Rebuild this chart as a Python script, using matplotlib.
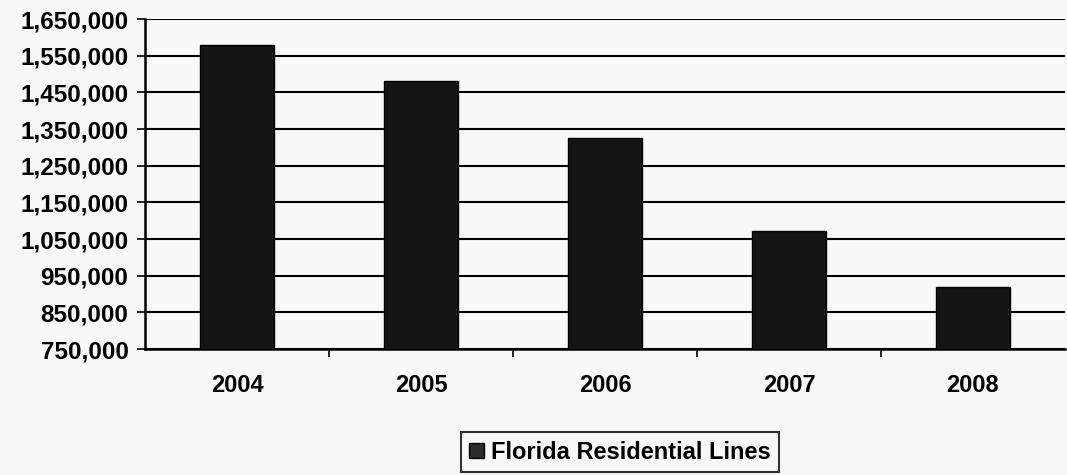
import matplotlib
matplotlib.use('Agg')
from matplotlib import pyplot as plt
from matplotlib.patches import Patch
from matplotlib.ticker import FuncFormatter
import numpy as np

# Florida residential access lines by year
years = ['2004', '2005', '2006', '2007', '2008']
lines = [1579000, 1482000, 1325000, 1073000, 920000]
yticks = [750000, 850000, 950000, 1050000, 1150000, 1250000,
          1350000, 1450000, 1550000, 1650000]

plt.rcParams['font.family'] = ['Liberation Sans', 'DejaVu Sans']
plt.rcParams['font.weight'] = 'bold'

bg = '#f8f8f8'
fig = plt.figure(figsize=(10.67, 4.75), dpi=100, facecolor=bg)
ax = fig.add_axes([0.136, 0.265, 0.862, 0.695], facecolor=bg)

x = np.arange(len(years))
ax.bar(x, lines, width=0.4, color='#141414', edgecolor='#000000',
       linewidth=1, zorder=3)

ax.set_ylim(750000, 1650000)
ax.set_xlim(-0.5, len(years) - 0.5)
ax.set_yticks(yticks)
ax.yaxis.set_major_formatter(FuncFormatter(lambda v, p: '{:,.0f}'.format(v)))
ax.yaxis.grid(True, color='#000000', linewidth=1.5, zorder=1)
ax.set_axisbelow(True)

ax.set_xticks(x)
ax.set_xticklabels(years)
ax.set_xticks(np.arange(0.5, len(years) - 0.5), minor=True)
ax.tick_params(axis='x', which='major', length=0, pad=18, labelsize=17)
ax.tick_params(axis='x', which='minor', length=6, width=1.2, direction='out')
ax.tick_params(axis='y', length=6, width=1.2, labelsize=17.5, pad=6)

for s in ['top', 'right']:
    ax.spines[s].set_visible(False)
for s in ['left', 'bottom']:
    ax.spines[s].set_linewidth(1.8)
    ax.spines[s].set_color('#000000')

handle = Patch(facecolor='#2a2a2a', edgecolor='#000000')
leg = fig.legend([handle], ['Florida Residential Lines'], loc='center',
                 bbox_to_anchor=(0.581, 0.048), frameon=True, fancybox=False,
                 fontsize=17, handlelength=0.6, handleheight=0.6,
                 handletextpad=0.3, borderpad=0.35)
leg.get_frame().set_edgecolor('#000000')
leg.get_frame().set_linewidth(1.5)
leg.get_frame().set_facecolor(bg)

plt.savefig('out.png', dpi=100, facecolor=bg)
